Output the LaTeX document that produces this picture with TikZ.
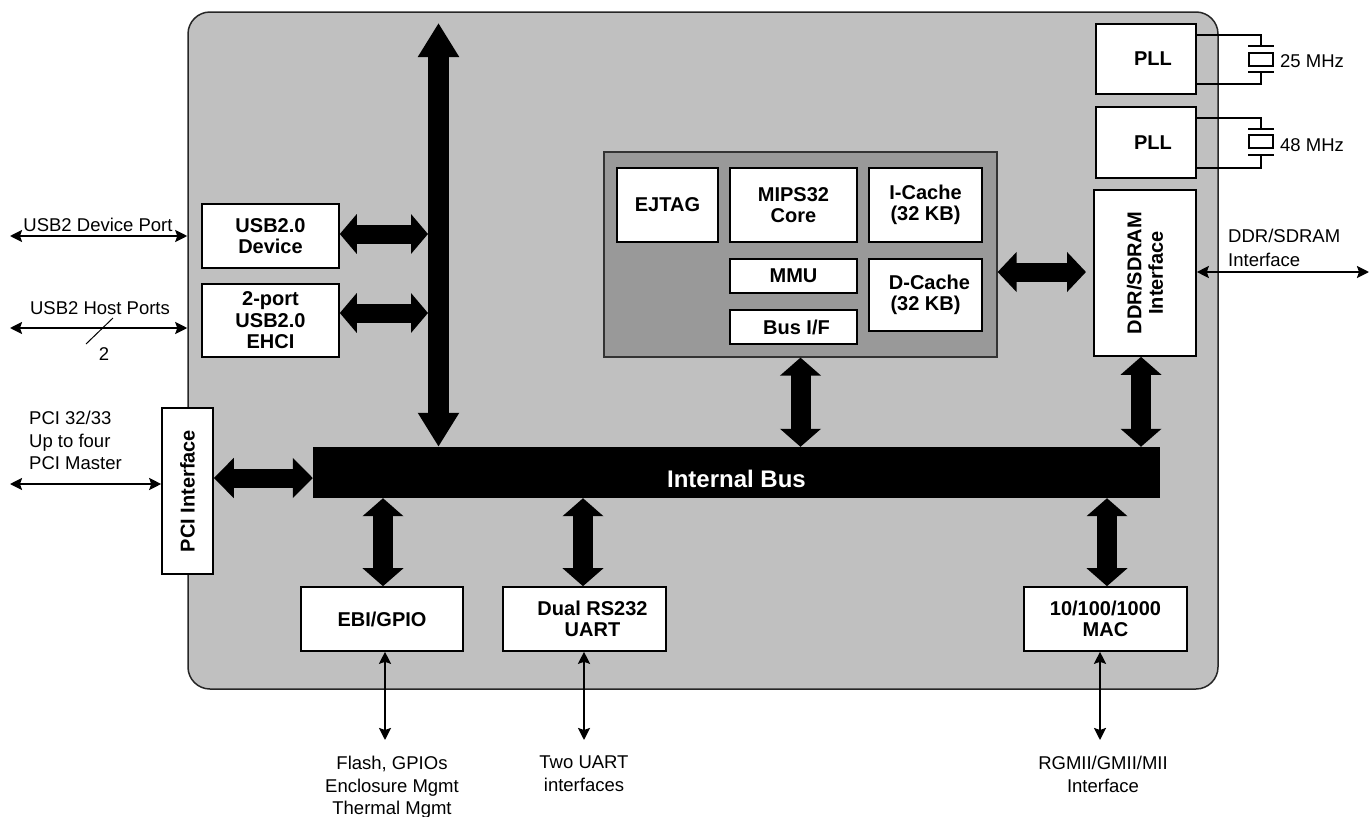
\documentclass[tikz,border=0pt]{standalone}
\usepackage{fontspec}
\setmainfont{Liberation Sans}
\usetikzlibrary{arrows.meta,calc}
\definecolor{outergray}{RGB}{192,192,192}
\definecolor{coregray}{RGB}{153,153,153}
\begin{document}
\begin{tikzpicture}[x=1pt,y=-1pt,
  blk/.style={draw=black,line width=1.6pt,fill=white,inner sep=0pt,
    font=\fontsize{20}{21.5}\selectfont\bfseries,align=center},
  btxt/.style={inner sep=0pt,font=\fontsize{20}{21.5}\selectfont\bfseries,align=center},
  lbl/.style={inner sep=0pt,font=\fontsize{18.5}{22.5}\selectfont,align=center},
  lbll/.style={inner sep=0pt,font=\fontsize{18.5}{22.5}\selectfont,align=left},
  fatv/.style={line width=20pt,{Triangle[length=18pt,width=40pt]}-{Triangle[length=18pt,width=40pt]}},
  fatbig/.style={line width=21pt,{Triangle[length=34pt,width=39pt]}-{Triangle[length=34pt,width=39pt]}},
  thinarr/.style={line width=2.2pt,{Stealth[length=12pt,width=12pt,inset=2pt]}-{Stealth[length=12pt,width=12pt,inset=2pt]}},
  wire/.style={line width=1.2pt}
]
\useasboundingbox (0,0) rectangle (1369,817);

% main chip outline
\node[draw=black!85,fill=outergray,rounded corners=22pt,line width=1.5pt,
  minimum width=1030pt,minimum height=677pt,inner sep=0pt] (main) at (703,350.5) {};

% PLLs and crystals
\node[blk,minimum width=100pt,minimum height=70pt] (pll1) at (1146,59) {\hspace*{14pt}PLL};
\node[blk,minimum width=100pt,minimum height=71pt] (pll2) at (1146,142.5) {\hspace*{14pt}PLL};

\draw[wire] ([yshift=24pt]pll1.east) -| (1261,46);
\draw[wire] (1248,46) -- (1274,46);
\draw[wire] (1249,53) rectangle (1273,66);
\draw[wire] (1248,72) -- (1274,72);
\draw[wire] (1261,72) |- ([yshift=-25pt]pll1.east);
\node[lbll,anchor=west] (f25) at (1280,61) {25 MHz};

\draw[wire] ([yshift=24.5pt]pll2.east) -| (1261,129);
\draw[wire] (1248,129) -- (1274,129);
\draw[wire] (1249,135) rectangle (1273,148);
\draw[wire] (1248,155) -- (1274,155);
\draw[wire] (1261,155) |- ([yshift=-25.5pt]pll2.east);
\node[lbll,anchor=west] (f48) at (1280,145) {48 MHz};

% DDR interface
\node[blk,minimum width=102pt,minimum height=166pt] (ddr) at (1145,273) {};
\node[btxt,rotate=90] (ddrt) at (ddr) {DDR/SDRAM\\Interface};
\coordinate (ddrext) at (1369,272);
\draw[thinarr] ([yshift=1pt]ddr.east) -- (ddrext);
\node[lbll,anchor=north west] (ddrl) at (1228,229) {DDR/SDRAM\\[1pt]Interface};

% CPU core cluster
\node[draw=black!80,line width=1.2pt,fill=coregray,minimum width=393pt,minimum height=205pt,inner sep=0pt] (core) at (800.5,254.5) {};
\node[blk,minimum width=101pt,minimum height=74pt] (ejtag) at (667.5,205) {EJTAG};
\node[blk,minimum width=127pt,minimum height=74pt] (mips) at (793.5,205) {MIPS32\\Core};
\node[blk,minimum width=113pt,minimum height=74pt] (icache) at (925.5,205) {I-Cache\\(32 KB)};
\node[blk,minimum width=127pt,minimum height=34pt] (mmu) at (793.5,276) {MMU};
\node[blk,minimum width=127pt,minimum height=34pt] (busif) at (793.5,327) {\hspace*{6pt}Bus I/F};
\node[blk,minimum width=113pt,minimum height=72pt] (dcache) at (925.5,295) {\hspace*{8pt}D-Cache\\(32 KB)};

% Internal bus
\node[fill=black,minimum width=847pt,minimum height=51pt,inner sep=0pt] (bus) at (736.5,472.5) {};
\node[inner sep=0pt,text=white,font=\fontsize{24}{26}\selectfont\bfseries] (bust) at ([yshift=-6pt]bus.center) {Internal Bus};

% USB blocks
\node[blk,minimum width=137pt,minimum height=64pt] (usbd) at (270.5,236) {USB2.0\\Device};
\node[blk,minimum width=137pt,minimum height=73pt] (ehci) at (270.5,320.5) {2-port\\USB2.0\\EHCI};

% PCI
\node[blk,minimum width=51pt,minimum height=166pt] (pci) at (187.5,491) {};
\node[btxt,rotate=90] (pcit) at (pci) {PCI Interface};

% bottom blocks
\node[blk,minimum width=162pt,minimum height=64pt] (ebi) at (382,619) {EBI/GPIO};
\node[blk,minimum width=163pt,minimum height=64pt] (uart) at (584.5,619) {\hspace*{16pt}Dual RS232\\\hspace*{16pt}UART};
\node[blk,minimum width=163pt,minimum height=64pt] (mac) at (1105.5,619) {10/100/1000\\MAC};

% big vertical bus arrow
\coordinate (vtop) at (438.5,23);
\draw[fatbig] (vtop) -- (vtop |- bus.north);
\coordinate (vl) at (428,0);

% fat arrows
\draw[line width=19pt,{Triangle[length=17pt,width=39pt]}-{Triangle[length=17pt,width=39pt]}]
  ([yshift=2pt]usbd.east) -- ([yshift=2pt]usbd.east -| vl);
\draw[line width=19pt,{Triangle[length=17pt,width=39pt]}-{Triangle[length=17pt,width=39pt]}]
  ([yshift=7.5pt]ehci.east) -- ([yshift=7.5pt]ehci.east -| vl);
\draw[line width=19pt,{Triangle[length=20pt,width=39pt]}-{Triangle[length=20pt,width=39pt]}]
  ([yshift=13pt]pci.east) -- ([yshift=13pt]pci.east -| bus.west);
\coordinate (ddrtip) at (1086,272);
\draw[line width=19pt,{Triangle[length=19pt,width=39pt]}-{Triangle[length=19pt,width=39pt]}]
  ([yshift=-17.5pt]core.east) -- (ddrtip);
\draw[fatv] (core.south) -- (core.south |- bus.north);
\draw[fatv] ([xshift=-4pt]ddr.south) -- ([xshift=-4pt]ddr.south |- bus.north);
\draw[fatv] ([xshift=1pt]ebi.north |- bus.south) -- ([xshift=1pt]ebi.north);
\draw[fatv] ([xshift=-1.5pt]uart.north |- bus.south) -- ([xshift=-1.5pt]uart.north);
\draw[fatv] ([xshift=1.5pt]mac.north |- bus.south) -- ([xshift=1.5pt]mac.north);

% external thin arrows - left side
\coordinate (usbdext) at (10,236);
\draw[thinarr] (usbdext) -- (usbdext -| main.west);
\node[lbl] (usbdl) at (98,225) {USB2 Device Port};

\coordinate (usbhext) at (10,328);
\draw[thinarr] (usbhext) -- (usbhext -| main.west);
\node[lbl] (usbhl) at (100,308) {USB2 Host Ports};
\draw[line width=1pt] (86,344) -- (113,318);
\node[lbl] (two) at (104,354) {2};

\coordinate (pciext) at (10,484);
\draw[thinarr] (pciext) -- (pciext -| pci.west);
\node[lbll,anchor=north west] (pcil) at (29,411) {PCI 32/33\\Up to four\\PCI Master};

% external thin arrows - bottom
\coordinate (ebiext) at (385,740);
\draw[thinarr] (ebiext |- ebi.south) -- (ebiext);
\node[lbl,anchor=north] (ebil) at (392,756) {Flash, GPIOs\\Enclosure Mgmt\\Thermal Mgmt};

\coordinate (uartext) at (584,740);
\draw[thinarr] (uartext |- uart.south) -- (uartext);
\node[lbl,anchor=north] (uartl) at (584,756) {Two UART\\interfaces};

\coordinate (macext) at (1100,740);
\draw[thinarr] (macext |- mac.south) -- (macext);
\node[lbl,anchor=north] (macl) at (1103,756) {RGMII/GMII/MII\\Interface};

\end{tikzpicture}
\end{document}
